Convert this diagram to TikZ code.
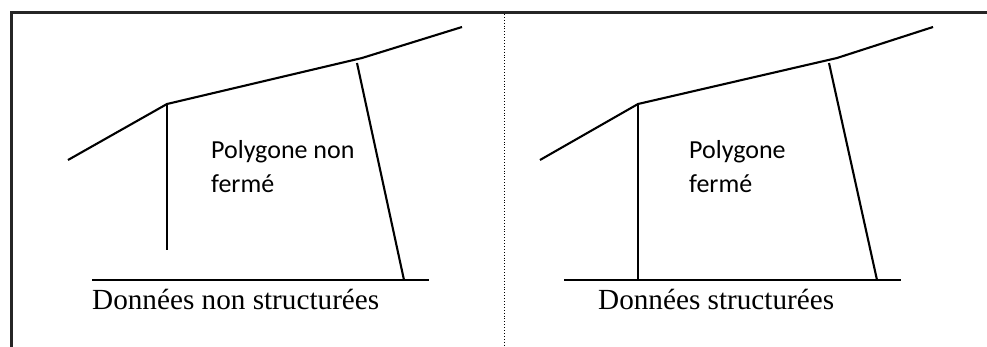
\documentclass[tikz,border=0pt]{standalone}
\usepackage{fontspec}
\setmainfont{Liberation Serif}
\newfontfamily\calib{Carlito}
\begin{document}
\begin{tikzpicture}[x=1pt,y=-1pt,
  shape line/.style={line width=2.1pt,line cap=butt},
  frame line/.style={line width=2.2pt,draw=black!85},
  caption/.style={anchor=base west,inner sep=0pt,font=\fontsize{29.2}{31}\selectfont},
  inlabel/.style={anchor=base west,inner sep=0pt,font=\calib\fontsize{26}{30}\selectfont}]
\useasboundingbox (0,0) rectangle (987,347);
% frame
\coordinate (tl) at (11.5,12.5);
\coordinate (tr) at (987,12.5);
\coordinate (bl) at (11.5,347);
\draw[frame line] (bl) -- (tl) -- (tr);
\coordinate (dt) at (504,14);
\coordinate (db) at (504,347);
\draw[dotted,line width=0.9pt] (dt) -- (db);
% left panel
\coordinate (a1) at (68,160);
\coordinate (a2) at (167,104);
\coordinate (a3) at (362,58);
\coordinate (a4) at (462,27);
\coordinate (a5) at (167,250);
\coordinate (a6) at (357,63);
\coordinate (a7) at (404,280);
\coordinate (a8) at (92,280);
\coordinate (a9) at (429,280);
\draw[shape line] (a1) -- (a2) -- (a3) -- (a4);
\draw[shape line] (a2) -- (a5);
\draw[shape line] (a6) -- (a7);
\draw[shape line] (a8) -- (a9);
\node[inlabel] (l1) at (211,159) {Polygone non};
\node[inlabel] (l2) at (211,192.5) {fermé};
\node[caption] (c1) at (92,309) {Données non structurées};
% right panel
\coordinate (b1) at (540,160);
\coordinate (b2) at (638,104);
\coordinate (b3) at (837,58);
\coordinate (b4) at (933,27);
\coordinate (b5) at (638,280);
\coordinate (b6) at (829,63);
\coordinate (b7) at (877,280);
\coordinate (b8) at (564,280);
\coordinate (b9) at (901,280);
\draw[shape line] (b1) -- (b2) -- (b3) -- (b4);
\draw[shape line] (b2) -- (b5);
\draw[shape line] (b6) -- (b7);
\draw[shape line] (b8) -- (b9);
\node[inlabel] (r1) at (689,159) {Polygone};
\node[inlabel] (r2) at (689,192.5) {fermé};
\node[caption] (c2) at (598,309) {Données structurées};
\end{tikzpicture}
\end{document}
